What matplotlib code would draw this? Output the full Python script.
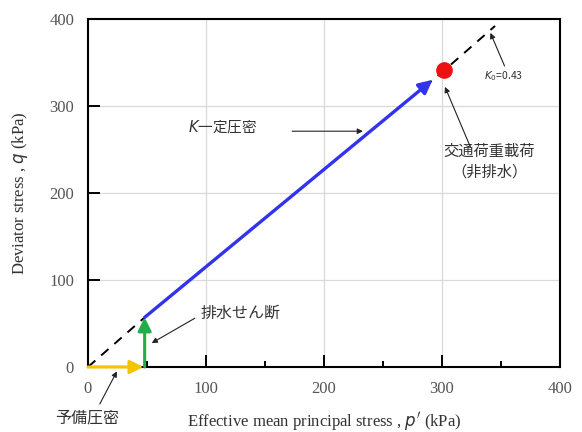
import matplotlib
matplotlib.use("Agg")
import matplotlib.pyplot as plt
from matplotlib.ticker import MultipleLocator

plt.rcParams['font.family'] = ['Noto Sans CJK JP', 'DejaVu Sans']

# Stress path segments (p', q) in kPa
pre_p = [0, 47]          # 予備圧密
pre_q = [0, 0]
drain_p = [48, 48]       # 排水せん断
drain_q = [0, 57]
k0_path_p = [48, 292]    # K一定圧密
k0_path_q = [57, 330]
k0_line_p = [0, 48, 302, 345]   # K0 = 0.43 line
k0_line_q = [0, 57, 341, 392]
traffic_p = [302]        # 交通荷重載荷
traffic_q = [341]

x_ticks = [0, 100, 200, 300, 400]
y_ticks = [0, 100, 200, 300, 400]

fig = plt.figure(figsize=(5.82, 4.32), dpi=100)
ax = fig.add_axes([0.1512, 0.1505, 0.811, 0.8056])

ax.set_xlim(0, 400)
ax.set_ylim(0, 400)
ax.set_xticks(x_ticks)
ax.set_yticks(y_ticks)
ax.xaxis.set_minor_locator(MultipleLocator(50))
ax.tick_params(which='major', direction='in', length=8.5, width=1.4, labelsize=12,
               labelcolor='#555555', pad=10)
ax.tick_params(which='minor', direction='in', length=4.3, width=1.4)
for lab in ax.get_xticklabels() + ax.get_yticklabels():
    lab.set_fontfamily('Liberation Serif')
for s in ax.spines.values():
    s.set_linewidth(1.5)
ax.grid(True, which='major', color='#d9d9d9', linewidth=0.9)
ax.set_axisbelow(True)

# K0 line (dashed)
ax.plot(k0_line_p, k0_line_q, color='black', linestyle=(0, (5, 4)), linewidth=1.4, zorder=2)

def arrow(p, q, color, lw, ms):
    ax.annotate('', xy=(p[1], q[1]), xytext=(p[0], q[0]),
                arrowprops=dict(arrowstyle='-|>', color=color, lw=lw,
                                mutation_scale=ms, shrinkA=0, shrinkB=0),
                zorder=3)

arrow(pre_p, pre_q, '#f5c400', 2.2, 20)
arrow(drain_p, drain_q, '#1fae4a', 2.2, 20)
arrow(k0_path_p, k0_path_q, '#3333ee', 2.4, 20)

ax.plot(traffic_p, traffic_q, 'o', color='#ee1111', markersize=11, zorder=4)

# Annotations
thin = dict(arrowstyle='-|>', color='#222222', lw=0.8, mutation_scale=8, shrinkA=0, shrinkB=0)

def pointer(x0, y0, x1, y1):
    ax.annotate('', xy=(x1, y1), xytext=(x0, y0), arrowprops=thin, annotation_clip=False)

ax.text(114, 276, '$K$一定圧密', fontsize=10.5, color='#333333', ha='center', va='center')
pointer(173, 271, 233, 271)

ax.text(340, 236, '交通荷重載荷\n（非排水）', fontsize=11, color='#333333',
        ha='center', va='center', linespacing=1.25)
pointer(324, 253, 302.5, 322)

ax.text(352, 334, '$K_0$=0.43', fontsize=7.5, color='#333333', ha='center', va='center')
pointer(353, 346, 341, 384)

ax.text(95, 62, '排水せん断', fontsize=11.5, color='#333333', ha='left', va='center')
pointer(90.5, 56, 54, 27.5)

ax.text(-1, -59, '予備圧密', fontsize=11.5, color='#333333', ha='center', va='center',
        clip_on=False)
pointer(10, -42.5, 24.5, -5)

ax.set_xlabel("Effective mean principal stress , $p'$ (kPa)", fontsize=12,
              fontfamily='Liberation Serif', color='#333333')
ax.set_ylabel("Deviator stress , $q$ (kPa)", fontsize=12,
              fontfamily='Liberation Serif', color='#333333')
ax.xaxis.set_label_coords(0.5, -0.125)
ax.yaxis.set_label_coords(-0.122, 0.5)

fig.savefig('out.png', dpi=100)
